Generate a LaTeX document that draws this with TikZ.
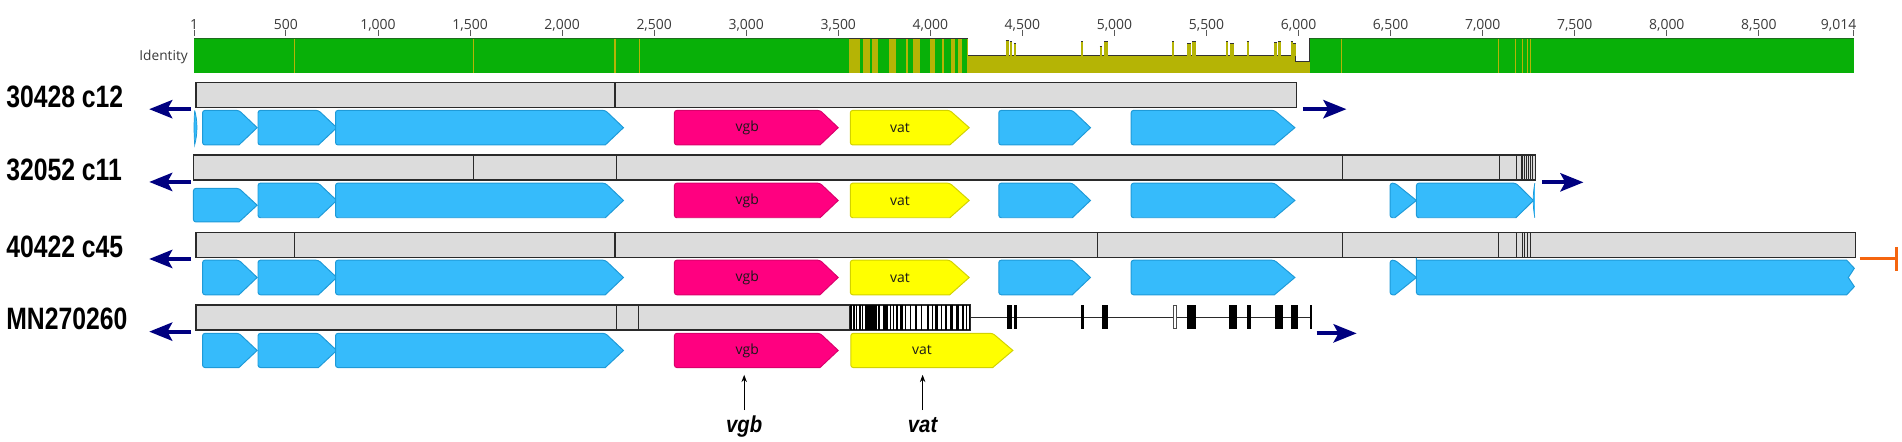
\documentclass[tikz,border=0pt]{standalone}
\usepackage{fontspec}
\setmainfont{Liberation Sans}
\newfontfamily\osans{Open Sans}
\usetikzlibrary{arrows.meta}
\definecolor{idgreen}{HTML}{08B008}
\definecolor{idgreendark}{HTML}{1F6B1F}
\definecolor{idolive}{HTML}{B5B405}
\definecolor{genefill}{HTML}{36BBFB}
\definecolor{genedraw}{HTML}{1E9AD8}
\definecolor{vgbfill}{HTML}{FF0080}
\definecolor{vgbdraw}{HTML}{D9006B}
\definecolor{vatfill}{HTML}{FFFF00}
\definecolor{vatdraw}{HTML}{D2D200}
\definecolor{barfill}{HTML}{DCDCDC}
\definecolor{bardraw}{HTML}{2A2A2A}
\definecolor{navyarr}{HTML}{000080}
\definecolor{orangemark}{HTML}{F5650F}
\definecolor{rulertext}{HTML}{3A3A3A}
\newcommand{\genearrow}[6]{\draw[#6] (#3,{(#4+#5)/2}) -- (#2,#5) [rounded corners=2pt] -- (#1,#5) -- (#1,#4) -- (#2,#4) [sharp corners] -- cycle;}
\begin{document}
\begin{tikzpicture}[x=1pt,y=-1pt,
  rlab/.style={font=\osans\fontsize{11.5}{12}\selectfont, text=rulertext, inner sep=0pt, anchor=base},
  rtick/.style={draw=black!65, line width=0.8},
  rowlab/.style={font=\bfseries\fontsize{25.5}{25.5}\selectfont, inner sep=0pt, anchor=base west},
  glab/.style={font=\osans\fontsize{11.5}{12}\selectfont, text=black!90, inner sep=0pt},
  blab/.style={font=\bfseries\itshape\fontsize{19}{19}\selectfont, inner sep=0pt, anchor=base},
  gblue/.style={fill=genefill, draw=genedraw, line width=0.8},
  gvgb/.style={fill=vgbfill, draw=vgbdraw, line width=0.8},
  gvat/.style={fill=vatfill, draw=vatdraw, line width=0.8},
  seqbar/.style={fill=barfill, draw=bardraw, line width=1},
  divider/.style={draw=bardraw, line width=0.9},
  idline/.style={draw=black!80, line width=0.6},
  navyarrow/.style={draw=navyarr, line width=3.2, -{Stealth[length=19pt,width=15pt,inset=4pt]}},
  ptr/.style={draw=black, line width=0.8, -{Stealth[length=6pt,width=4.5pt]}},
  endmark/.style={draw=orangemark, line width=2.6}
]
\useasboundingbox (0,0) rectangle (1568,364);

% ---------------- ruler ----------------
\foreach \bp/\lab in {500/500,1000/{1,000},1500/{1,500},2000/{2,000},2500/{2,500},3000/{3,000},3500/{3,500},4000/{4,000},4500/{4,500},5000/{5,000},5500/{5,500},6000/{6,000},6500/{6,500},7000/{7,000},7500/{7,500},8000/{8,000},8500/{8,500}}{
  \pgfmathsetmacro\xx{160+(\bp-1)*0.151781}
  \draw[rtick] (\xx,24.5) -- (\xx,29.5);
  \node[rlab] (r\bp) at (\xx,24.7) {\lab};
}
\draw[rtick] (160,24.5) -- (160,29.5);
\node[rlab] (r1) at (160,24.7) {1};
\draw[rtick] (1528,24.5) -- (1528,29.5);
\node[rlab, anchor=base east] (r9014) at (1530.5,24.7) {9,014};

% ---------------- identity ----------------
\node[font=\osans\fontsize{11.3}{12}\selectfont, text=rulertext, inner sep=0pt, anchor=base east] (idlab) at (155,49.5) {Identity};
\fill[idgreen] (160,31.6) rectangle (699.5,60.4);
\fill[idgreen] (1079.9,31.6) rectangle (1528,60.4);
\fill[idolive] (699.5,31.6) rectangle (798.1,60.4);
\foreach \a/\b in {709/711.7, 717/719.1, 723.8/733.2, 738.6/746.7, 748.3/752.7, 758.4/766.8, 770.9/776.9, 778.6/784.3, 787/789.7, 793.1/797.1}
  \fill[idgreen] (\a,32.5) rectangle (\b,60.4);
\fill[idolive] (798.1,45.6) rectangle (1068.1,60.4);
\fill[idolive] (1068.1,50.3) rectangle (1079.9,60.4);
\draw[idline] (798.1,45.6) -- (1068.1,45.6) -- (1068.1,50.3) -- (1079.4,50.3) -- (1079.4,31.6);
\foreach \a/\b/\t in {829.1/831.5/33.5, 832.5/834.1/34, 835.8/837.5/35.5, 891.3/893/34, 906.5/908.2/38, 910.5/913.2/33.8, 966.4/968.1/34, 978.8/982.2/35.5, 982.9/985.6/34, 1010.8/1012.5/34, 1014.2/1017.5/36, 1027.6/1029.3/34, 1050.5/1052.9/35, 1053.9/1056.3/34, 1064/1065.7/34, 1066/1068/35.5}{
  \fill[idolive] (\a,\t) rectangle (\b,45.8);
  \draw[idline] (\a,\t) -- (\b,\t);
}
\foreach \x in {243,390,507,527,1106,1235,1249,1255,1259,1262}
  \draw[idolive, line width=0.9] (\x,32.4) -- (\x,60.4);
\draw[idgreendark, line width=1.3] (160,31.6) -- (699.5,31.6);
\draw[idgreendark, line width=1.3] (1079.9,31.6) -- (1528,31.6);
\draw[idline] (699.5,31.8) -- (798.1,31.8);

% ---------------- row labels ----------------
\node[rowlab] (lab1) at (5,88.5) {\scalebox{0.8}[1]{30428 c12}};
\node[rowlab] (lab2) at (5,149) {\scalebox{0.8}[1]{32052 c11}};
\node[rowlab] (lab3) at (5,212.5) {\scalebox{0.8}[1]{40422 c45}};
\node[rowlab] (lab4) at (5,272) {\scalebox{0.8}[1]{MN270260}};

% ---------------- row 1 ----------------
\draw[seqbar] (161.5,68) rectangle (1068.5,88.5);
\draw[divider] (507,68) -- (507,88.5);
\draw[gblue, line width=0.6] (160.5,91) .. controls (163,100) and (163,110) .. (160.5,119.5) .. controls (159.8,110) and (159.8,100) .. (160.5,91);
\genearrow{167}{197}{212}{91}{119.5}{gblue}
\genearrow{212.7}{262.5}{277.6}{91}{119.5}{gblue}
\genearrow{276.6}{499}{514}{91}{119.5}{gblue}
\genearrow{556}{676}{691}{91}{119.5}{gvgb}
\genearrow{701}{783}{799}{91}{119.5}{gvat}
\genearrow{823.4}{884}{899}{91}{119.5}{gblue}
\genearrow{932.5}{1050.6}{1067.5}{91}{119.5}{gblue}
\node[glab] (vgb1) at (616,105.3) {vgb};
\node[glab] (vat1) at (742,105.3) {vat};
\coordinate (l1a) at (157.5,90); \coordinate (l1b) at (123,90);
\coordinate (r1a) at (1074,90); \coordinate (r1b) at (1110,90);
\draw[navyarrow] (l1a) -- (l1b);
\draw[navyarrow] (r1a) -- (r1b);

% ---------------- row 2 ----------------
\draw[seqbar] (159.5,127.8) rectangle (1266,148.4);
\foreach \x in {390.3,508,1107,1236,1250,1254.7,1256.4,1258.1,1260.2,1261.9,1263.1}
  \draw[divider] (\x,127.8) -- (\x,148.4);
\genearrow{159.5}{197}{212}{155.3}{183}{gblue}
\genearrow{212.7}{262.5}{277.6}{151}{179.5}{gblue}
\genearrow{276.6}{499}{514}{151}{179.5}{gblue}
\genearrow{556}{676}{691}{151}{179.5}{gvgb}
\genearrow{701}{783}{799}{151}{179.5}{gvat}
\genearrow{823.4}{884}{899}{151}{179.5}{gblue}
\genearrow{932.5}{1050.6}{1067.5}{151}{179.5}{gblue}
\genearrow{1146}{1150}{1167.7}{151}{179.5}{gblue}
\genearrow{1167.7}{1249.7}{1264.2}{151}{179.5}{gblue}
\draw[gblue, line width=0.6] (1265.3,151) .. controls (1263.5,160) and (1263.5,170) .. (1265.3,179.5);
\node[glab] (vgb2) at (616,165.3) {vgb};
\node[glab] (vat2) at (742,165.3) {vat};
\coordinate (l2a) at (157.5,150); \coordinate (l2b) at (123,150);
\coordinate (r2a) at (1271.6,150.3); \coordinate (r2b) at (1305.4,150.3);
\draw[navyarrow] (l2a) -- (l2b);
\draw[navyarrow] (r2a) -- (r2b);

% ---------------- row 3 ----------------
\draw[seqbar] (161.5,191.5) rectangle (1529.8,212);
\foreach \x in {243,507,905,1107,1235.6,1250,1255,1257,1259.5,1261.5}
  \draw[divider] (\x,191.5) -- (\x,212);
\genearrow{167}{197}{212}{214.5}{243}{gblue}
\genearrow{212.7}{262.5}{277.6}{214.5}{243}{gblue}
\genearrow{276.6}{499}{514}{214.5}{243}{gblue}
\genearrow{556}{676}{691}{214.5}{243}{gvgb}
\genearrow{701}{783}{799}{214.5}{243}{gvat}
\genearrow{823.4}{884}{899}{214.5}{243}{gblue}
\genearrow{932.5}{1050.6}{1067.5}{214.5}{243}{gblue}
\genearrow{1146}{1150}{1167.7}{214.5}{243}{gblue}
\draw[gblue] (1167.7,214.5) -- (1522.4,214.5) -- (1528.7,221.2) -- (1523.7,228.75) -- (1528.7,236.3) -- (1522.4,243) [rounded corners=2pt] -- (1167.7,243) -- (1167.7,214.5) [sharp corners] -- cycle;
\node[glab] (vgb3) at (616,228.8) {vgb};
\node[glab] (vat3) at (742,228.8) {vat};
\coordinate (l3a) at (157.5,213.5); \coordinate (l3b) at (123,213.5);
\draw[navyarrow] (l3a) -- (l3b);
\coordinate (o3a) at (1533,213); \coordinate (o3b) at (1563.6,213);
\coordinate (o3c) at (1563.6,203.6); \coordinate (o3d) at (1563.6,223);
\draw[endmark] (o3a) -- (o3b);
\draw[endmark] (o3c) -- (o3d);

% ---------------- row 4 ----------------
\draw[seqbar] (161.5,251.4) rectangle (700.6,272);
\draw[divider] (508,251.4) -- (508,272);
\draw[divider] (526.6,251.4) -- (526.6,272);
\draw[seqbar, fill=white] (700.6,251.4) rectangle (800,272);
\foreach \a/\b in {701/702.3, 703.3/704.5, 705.5/706.8, 708/709.5, 710.5/711.7, 712.8/722.7, 724/725.2, 728.2/731.9, 733.3/734.3, 736/737, 739/740, 742.2/744.8, 746.2/747.2, 750/751, 754/755.8, 759/760, 764.5/765.5, 768.3/769.3, 770.5/773.1, 775.7/776.7, 779.3/780.3, 783.4/785.3, 787.8/790.8, 793.3/794.3, 796/797, 798.8/800}
  \fill[black] (\a,251.4) rectangle (\b,272);
\draw[draw=bardraw, line width=1] (800,261.7) -- (1080.7,261.7);
\foreach \a/\b in {830/834.5, 836/838.6, 891.2/893.9, 908.2/913.7, 978.8/986, 1013.2/1020, 1027.8/1031.3, 1051.1/1058, 1064/1070.3, 1080/1081.4}
  \fill[black] (\a,251.4) rectangle (\b,271);
\draw[black!70, fill=white, line width=0.6] (967.3,251.6) rectangle (969.5,270.8);
\genearrow{167}{197}{212}{274.8}{303}{gblue}
\genearrow{212.7}{262.5}{277.6}{274.8}{303}{gblue}
\genearrow{276.6}{499}{514}{274.8}{303}{gblue}
\genearrow{556}{676}{691}{274.8}{303}{gvgb}
\genearrow{701.4}{818.4}{835}{274.8}{303}{gvat}
\node[glab] (vgb4) at (616,288.9) {vgb};
\node[glab] (vat4) at (760,288.9) {vat};
\coordinate (l4a) at (157.5,273.4); \coordinate (l4b) at (123,273.4);
\coordinate (r4a) at (1085.5,274.8); \coordinate (r4b) at (1118.4,274.8);
\draw[navyarrow] (l4a) -- (l4b);
\draw[navyarrow] (r4a) -- (r4b);

% ---------------- bottom labels ----------------
\node[blab] (bvgb) at (613.5,356.5) {\scalebox{0.88}[1]{vgb}};
\node[blab] (bvat) at (760.6,356.5) {\scalebox{0.88}[1]{vat}};
\coordinate (pvgb) at (613.5,309); \coordinate (pvat) at (760.6,309);
\draw[ptr] (613.5,338) -- (pvgb);
\draw[ptr] (760.6,338) -- (pvat);
\end{tikzpicture}
\end{document}
